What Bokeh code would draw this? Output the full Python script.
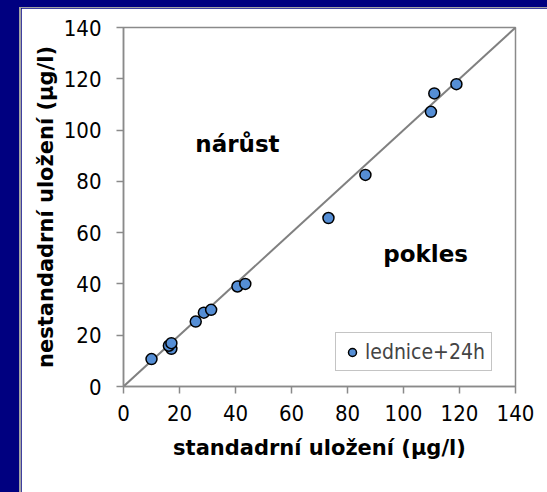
from bokeh.plotting import figure
from bokeh.models import Range1d, FixedTicker, Label, Legend, LegendItem, ColumnDataSource
from bokeh.layouts import column
from bokeh.embed import file_html
from bokeh.resources import INLINE

# measured concentrations (µg/l)
standard = [10.0, 17.1, 16.2, 17.1, 25.8, 28.7, 31.3, 40.7, 43.5, 73.2, 86.4, 109.8, 111.0, 118.9]
nonstandard = [10.7, 14.7, 15.9, 16.9, 25.3, 28.8, 29.9, 39.0, 40.0, 65.7, 82.5, 107.1, 114.3, 117.9]
series_name = "lednice+24h"
ticks = [0, 20, 40, 60, 80, 100, 120, 140]
identity = [0, 140]

REG = "DejaVu Sans Condensed"
BOLD = "DejaVu Sans"
GREY = "#8a8a8a"

p = figure(width=547, height=492, output_backend="svg", toolbar_location=None,
           x_range=Range1d(0, 140), y_range=Range1d(0, 140),
           min_border_left=102, min_border_top=19, min_border_right=53, min_border_bottom=114)
p.margin = (8, 0, 0, 21)
p.styles = {"box-shadow": "-2px -1px 0 0 #a4a4a4"}
p.background_fill_color = "white"
p.border_fill_color = "white"
p.outline_line_color = GREY
p.outline_line_width = 1.5
p.xgrid.visible = False
p.ygrid.visible = False

for ax in (p.xaxis[0], p.yaxis[0]):
    ax.ticker = FixedTicker(ticks=ticks)
    ax.axis_line_color = GREY
    ax.axis_line_width = 1.5
    ax.major_tick_line_color = GREY
    ax.major_tick_line_width = 1.5
    ax.major_tick_out = 7
    ax.major_tick_in = 0
    ax.minor_tick_line_color = None
    ax.major_label_text_font = REG
    ax.major_label_text_font_size = "22px"
    ax.major_label_text_color = "black"
    ax.axis_label_text_font = BOLD
    ax.axis_label_text_font_style = "bold"
    ax.axis_label_text_font_size = "21px"
    ax.axis_label_text_color = "black"

p.xaxis.axis_label = "standadrní uložení (µg/l)"
p.yaxis.axis_label = "nestandadrní uložení (µg/l)"
p.xaxis.major_label_standoff = 11
p.yaxis.major_label_standoff = 15
p.xaxis.axis_label_standoff = 12
p.yaxis.axis_label_standoff = 3

# 1:1 reference line
p.line(identity, identity, line_color="#808080", line_width=2)

src = ColumnDataSource(dict(x=standard, y=nonstandard))
pts = p.scatter("x", "y", source=src, size=11, fill_color="#558ed5",
                line_color="black", line_width=1.5)

legend = Legend(items=[LegendItem(label=series_name, renderers=[pts])],
                location=(212, 15), border_line_color=GREY, border_line_width=1.5,
                label_text_font=REG, label_text_font_size="21px",
                glyph_width=20, glyph_height=22, label_height=25,
                padding=6, spacing=0, margin=0, label_standoff=3,
                background_fill_alpha=1.0)
p.add_layout(legend, "center")

for txt, x, y in (("nárůst", 40.7, 94.5), ("pokles", 107.9, 51.5)):
    p.add_layout(Label(x=x, y=y, text=txt, text_align="center", text_baseline="alphabetic",
                       text_font=BOLD, text_font_style="bold", text_font_size="23px",
                       text_color="black"))

page = column(p, width=547, height=492, styles={"background-color": "#000080"})

open("out.html", "w").write(file_html(page, INLINE))
